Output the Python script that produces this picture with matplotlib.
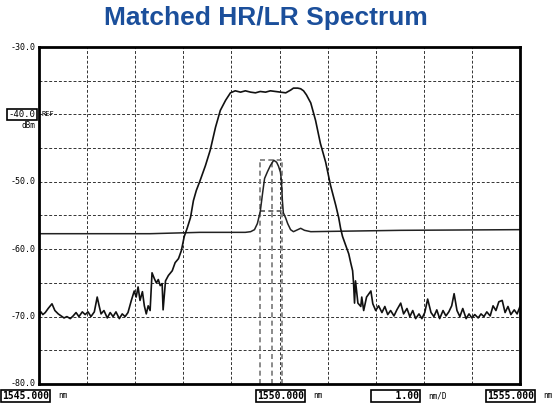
import matplotlib
matplotlib.use('Agg')
import matplotlib.pyplot as plt

# Dane: widmo szerokie (HR) - długość fali [nm] i moc [dBm]
hr_nm = [1545.00, 1545.04, 1545.08, 1545.13, 1545.19, 1545.27, 1545.33, 1545.40, 1545.46, 1545.52,
         1545.58, 1545.65, 1545.71, 1545.77, 1545.83, 1545.90, 1545.96, 1546.02, 1546.08, 1546.15,
         1546.21, 1546.25, 1546.29, 1546.35, 1546.42, 1546.48, 1546.54, 1546.60, 1546.67, 1546.73,
         1546.79, 1546.85, 1546.92, 1546.98, 1547.02, 1547.06, 1547.10, 1547.15, 1547.19, 1547.23,
         1547.27, 1547.31, 1547.35, 1547.40, 1547.44, 1547.48, 1547.52, 1547.56, 1547.58, 1547.63,
         1547.69, 1547.77, 1547.83, 1547.90, 1547.96, 1548.02, 1548.08, 1548.15, 1548.21, 1548.27,
         1548.35, 1548.46, 1548.56, 1548.67, 1548.77, 1548.88, 1548.98, 1549.08, 1549.19, 1549.29,
         1549.40, 1549.50, 1549.60, 1549.71, 1549.81, 1549.92, 1550.02, 1550.13, 1550.23, 1550.29,
         1550.38, 1550.44, 1550.50, 1550.56, 1550.65, 1550.75, 1550.85, 1550.96, 1551.06, 1551.17,
         1551.23, 1551.27, 1551.31, 1551.38, 1551.44, 1551.48, 1551.52, 1551.54, 1551.56, 1551.58,
         1551.63, 1551.69, 1551.71, 1551.75, 1551.81, 1551.90, 1551.94, 1552.00,
         1552.06, 1552.13, 1552.19, 1552.25, 1552.31, 1552.38, 1552.44, 1552.52, 1552.58, 1552.65,
         1552.71, 1552.77, 1552.83, 1552.90, 1552.96, 1553.02, 1553.08, 1553.15, 1553.21, 1553.27,
         1553.33, 1553.40, 1553.46, 1553.52, 1553.58, 1553.63, 1553.69, 1553.75, 1553.81, 1553.88,
         1553.94, 1554.00, 1554.06, 1554.13, 1554.19, 1554.25, 1554.31, 1554.38, 1554.44, 1554.50,
         1554.56, 1554.63, 1554.69, 1554.75, 1554.81, 1554.88, 1554.94, 1555.00]
hr_db = [-70.0, -69.3, -69.7, -69.4, -68.8, -68.1, -69.1, -69.6, -69.9, -70.2,
         -70.0, -70.3, -69.9, -69.4, -70.0, -69.3, -69.7, -69.3, -70.0, -69.3,
         -67.1, -68.4, -69.6, -69.1, -70.2, -69.4, -70.0, -69.3, -70.3, -69.6,
         -70.0, -69.4, -67.6, -66.2, -67.1, -65.6, -67.6, -66.3, -68.4, -69.6,
         -68.4, -69.1, -63.5, -64.4, -65.0, -64.5, -65.4, -65.1, -69.0, -64.7,
         -63.9, -63.2, -62.0, -61.4, -60.2, -58.1, -56.9, -55.3, -52.8, -51.3,
         -49.8, -47.6, -45.3, -41.9, -39.4, -37.9, -36.8, -36.5, -36.7, -36.5,
         -36.7, -36.8, -36.6, -36.7, -36.5, -36.6, -36.7, -36.8, -36.4, -36.1,
         -36.1, -36.2, -36.5, -37.1, -38.3, -40.9, -44.3, -47.1, -50.5, -53.5,
         -55.3, -56.9, -58.1, -59.5, -60.7, -62.0, -63.2, -65.1, -68.0, -64.7,
         -68.0, -68.5, -67.1, -69.1, -67.1, -66.2, -68.1, -69.1,
         -68.4, -69.4, -68.5, -69.7, -69.1, -69.9, -69.0, -68.0, -69.6, -68.8,
         -70.0, -69.1, -70.3, -69.6, -70.3, -69.4, -67.4, -69.4, -70.0, -69.0,
         -70.3, -69.1, -69.9, -69.3, -68.4, -66.6, -69.1, -70.0, -68.8, -70.3,
         -69.6, -70.2, -69.7, -70.2, -69.6, -70.0, -69.3, -69.9, -68.4, -69.1,
         -67.8, -67.6, -69.4, -68.5, -69.7, -69.0, -69.6, -68.5]

# Widmo wąskie (LR)
lr_nm = [1545.00, 1546.27, 1547.31, 1548.35, 1549.29, 1549.40, 1549.48, 1549.54, 1549.60, 1549.65,
         1549.69, 1549.75, 1549.81, 1549.88, 1549.94, 1549.98, 1550.02, 1550.04, 1550.06, 1550.08,
         1550.13, 1550.17, 1550.23, 1550.29, 1550.38, 1550.44, 1550.52, 1550.65, 1552.52, 1555.00]
lr_db = [-57.7, -57.7, -57.7, -57.5, -57.5, -57.4, -57.1, -56.2, -54.4, -51.6,
         -49.5, -48.5, -47.6, -46.8, -47.1, -47.7, -48.6, -49.8, -52.8, -54.6,
         -55.4, -56.2, -57.1, -57.4, -57.1, -56.9, -57.2, -57.4, -57.2, -57.1]

# Znaczniki (linie przerywane wokół wąskiego piku)
marker_nm = [1549.60, 1549.85, 1550.06]
marker_top_db = -46.8
marker_mid_db = -54.4

y_labels = ['-30.0', '-50.0', '-60.0', '-70.0', '-80.0']
y_label_vals = [-30, -50, -60, -70, -80]

W, H = 553, 407
MONO = 'DejaVu Sans Mono'


def fx(px):
    return px / W


def fy(py):
    return 1 - py / H


fig = plt.figure(figsize=(W / 100, H / 100), dpi=100)
ax = fig.add_axes([fx(39), fy(384), fx(520) - fx(39), fy(47) - fy(384)])

ax.set_xlim(1545, 1555)
ax.set_ylim(-80, -30)
ax.set_xticks([1545 + i for i in range(11)])
ax.set_yticks([-80 + 5 * i for i in range(11)])
ax.tick_params(length=0, labelbottom=False, labelleft=False)
ax.grid(True, color='#333333', linestyle=(0, (3, 2)), linewidth=0.7)
for s in ax.spines.values():
    s.set_linewidth(2)

# Znaczniki
for m in marker_nm:
    ax.plot([m, m], [-80, marker_top_db], color='#777777', linestyle=(0, (3, 2)), linewidth=1.2)
ax.plot([marker_nm[0], marker_nm[-1]], [marker_top_db, marker_top_db], color='#777777',
        linestyle=(0, (3, 2)), linewidth=1.2)
ax.plot([marker_nm[0], marker_nm[-1]], [marker_mid_db, marker_mid_db], color='#555555',
        linestyle=(0, (3, 2)), linewidth=1.2)

ax.plot(lr_nm, lr_db, color='#222222', linewidth=1.1)
ax.plot(hr_nm, hr_db, color='#111111', linewidth=1.2)

# Tytuł
fig.text(fx(266), fy(18), 'Matched HR/LR Spectrum', ha='center', va='center',
         fontsize=19, fontweight='bold', color='#1B4F9B', family='Liberation Sans')

# Etykiety osi Y
tr = ax.get_yaxis_transform()
for lab, v in zip(y_labels, y_label_vals):
    ax.text(-0.008, v, lab, transform=tr, ha='right', va='center', fontsize=6, family=MONO)
ax.text(-0.008, -40, '-40.0', transform=tr, ha='right', va='center', fontsize=6.5, family=MONO,
        bbox=dict(boxstyle='square,pad=0.15', fc='white', ec='black', lw=1.2))
fig.text(fx(41), fy(114), 'REF', ha='left', va='center', fontsize=5, family=MONO)
fig.text(fx(35), fy(126), 'dBm', ha='right', va='center', fontsize=5.5, family=MONO)

# Etykiety dolne
box = dict(boxstyle='square,pad=0.12', fc='white', ec='black', lw=1.2)
fig.text(fx(2), fy(396), '1545.000', ha='left', va='center', fontsize=7, family=MONO,
         fontweight='bold', bbox=box)
fig.text(fx(58), fy(396), 'nm', ha='left', va='center', fontsize=5.5, family=MONO)
fig.text(fx(257), fy(396), '1550.000', ha='left', va='center', fontsize=7, family=MONO,
         fontweight='bold', bbox=box)
fig.text(fx(313), fy(396), 'nm', ha='left', va='center', fontsize=5.5, family=MONO)
fig.text(fx(372), fy(396), '    1.00', ha='left', va='center', fontsize=7, family=MONO,
         fontweight='bold', bbox=box)
fig.text(fx(428), fy(396), 'nm/D', ha='left', va='center', fontsize=5.5, family=MONO)
fig.text(fx(487), fy(396), '1555.000', ha='left', va='center', fontsize=7, family=MONO,
         fontweight='bold', bbox=box)
fig.text(fx(543), fy(396), 'nm', ha='left', va='center', fontsize=5.5, family=MONO)

fig.savefig('out.png', dpi=100)
